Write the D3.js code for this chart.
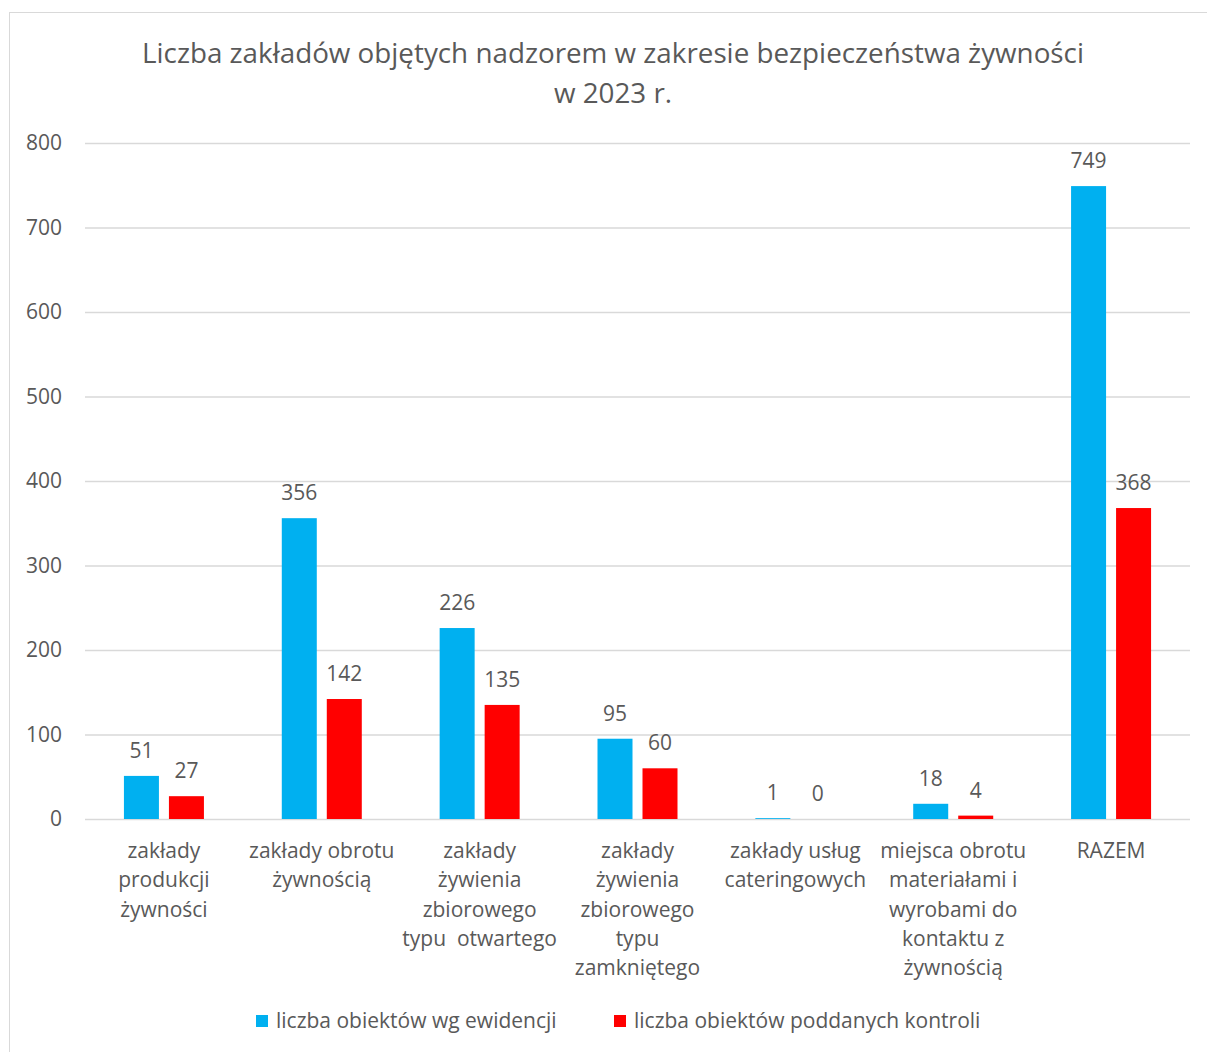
<!DOCTYPE html>
<html>
<head>
<meta charset="utf-8">
<script src="https://cdn.jsdelivr.net/npm/d3@7"></script>
<style>
  html, body { margin: 0; padding: 0; background: #fff; }
  svg { display: block; }
  text { font-family: "Open Sans", "Noto Sans", sans-serif; fill: #595959; }
</style>
</head>
<body>
<svg id="chart" width="1207" height="1052"></svg>
<script>
const titleLines = ["Liczba zakładów objętych nadzorem w zakresie bezpieczeństwa żywności", "w 2023 r."];
const categories = [
  ["zakłady", "produkcji", "żywności"],
  ["zakłady obrotu", "żywnością"],
  ["zakłady", "żywienia", "zbiorowego", "typu  otwartego"],
  ["zakłady", "żywienia", "zbiorowego", "typu", "zamkniętego"],
  ["zakłady usług", "cateringowych"],
  ["miejsca obrotu", "materiałami i", "wyrobami do", "kontaktu z", "żywnością"],
  ["RAZEM"]
];
const seriesNames = ["liczba obiektów wg ewidencji", "liczba obiektów poddanych kontroli"];
const ewidencja = [51, 356, 226, 95, 1, 18, 749];
const kontrola = [27, 142, 135, 60, 0, 4, 368];
const yTicks = [0, 100, 200, 300, 400, 500, 600, 700, 800];
const colors = ["#00B0F0", "#FF0000"];

const svg = d3.select("#chart");
svg.append("rect").attr("x", 9.5).attr("y", 12.5).attr("width", 1220).attr("height", 1060)
  .attr("fill", "#fff").attr("stroke", "#d9d9d9").attr("stroke-width", 1);

const pLeft = 85, pRight = 1190, pTop = 143, pBottom = 819;
const x = d3.scaleBand().domain(d3.range(categories.length)).range([pLeft, pRight]);
const y = d3.scaleLinear().domain([0, 800]).range([pBottom, pTop]);
const barW = 35, gap = 10;

// title
svg.append("g").selectAll("text").data(titleLines).join("text")
  .attr("x", 613).attr("y", (d, i) => 63 + i * 40)
  .attr("text-anchor", "middle").attr("font-size", 27.8).text(d => d);

// grid
const gy = svg.append("g").attr("transform", `translate(${pLeft},0)`)
  .call(d3.axisLeft(y).tickValues(yTicks).tickSize(-(pRight - pLeft)).tickPadding(23));
gy.select(".domain").remove();
gy.selectAll(".tick line").attr("stroke", "#d9d9d9").attr("stroke-width", 1.3);
gy.selectAll(".tick text").attr("font-size", 21).attr("fill", "#595959")
  .style("font-family", '"Open Sans", sans-serif');

// bars
const series = [ewidencja, kontrola];
series.forEach((vals, s) => {
  const g = svg.append("g");
  const bx = i => x(i) + x.bandwidth() / 2 + (s === 0 ? -gap / 2 - barW : gap / 2);
  g.selectAll("rect").data(vals).join("rect")
    .attr("x", (d, i) => bx(i)).attr("width", barW)
    .attr("y", d => y(d)).attr("height", d => y(0) - y(d))
    .attr("fill", colors[s]);
  g.selectAll("text").data(vals).join("text")
    .attr("x", (d, i) => bx(i) + barW / 2).attr("y", d => y(d) - 18)
    .attr("text-anchor", "middle").attr("font-size", 21).attr("fill", "#404040").text(d => d);
});

// category labels
const cg = svg.append("g");
categories.forEach((lines, i) => {
  cg.append("text").attr("x", x(i) + x.bandwidth() / 2).attr("y", 858)
    .attr("text-anchor", "middle").attr("font-size", 21)
    .selectAll("tspan").data(lines).join("tspan")
    .attr("x", x(i) + x.bandwidth() / 2).attr("dy", (d, j) => j === 0 ? 0 : 29.3)
    .style("white-space", "pre").text(d => d);
});

// legend
const legendX = [256, 614];
const lg = svg.append("g");
seriesNames.forEach((n, i) => {
  lg.append("rect").attr("x", legendX[i]).attr("y", 1015).attr("width", 12).attr("height", 12).attr("fill", colors[i]);
  lg.append("text").attr("x", legendX[i] + 20).attr("y", 1028).attr("font-size", 21).text(n);
});
</script>
</body>
</html>
